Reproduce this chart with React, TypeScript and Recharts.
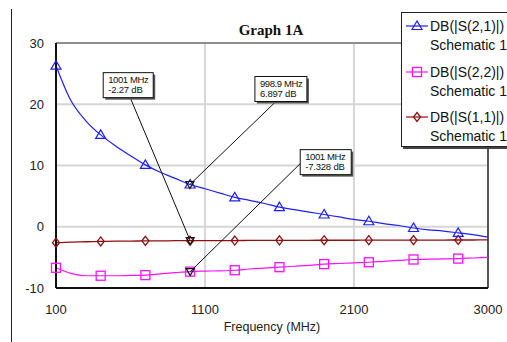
import React from 'react';
import { LineChart, Line, XAxis, YAxis, CartesianGrid, ReferenceLine, ReferenceDot } from 'recharts';

// sweep points (MHz) and the three traces in dB
const FREQS = [
  100, 200, 300, 400, 500, 600, 700, 800, 900, 1000,
  1100, 1200, 1300, 1400, 1500, 1600, 1700, 1800, 1900, 2000,
  2100, 2200, 2300, 2400, 2500, 2600, 2700, 2800, 2900, 3000,
];
const S21 = [
  26.3, 20.6, 17.3, 15.0, 13.2, 11.6, 10.1, 8.9, 7.9, 6.9,
  6.2, 5.5, 4.8, 4.3, 3.8, 3.2, 2.8, 2.4, 2.0, 1.6,
  1.2, 0.9, 0.5, 0.2, -0.2, -0.5, -0.7, -1.0, -1.3, -1.7,
];
const S22 = [
  -6.7, -7.6, -8.0, -8.0, -8.0, -7.95, -7.9, -7.7, -7.5, -7.33,
  -7.25, -7.2, -7.1, -6.9, -6.75, -6.6, -6.45, -6.3, -6.1, -6.0,
  -5.9, -5.8, -5.65, -5.5, -5.35, -5.3, -5.25, -5.2, -5.1, -5.0,
];
const S11 = [
  -2.6, -2.5, -2.45, -2.4, -2.35, -2.35, -2.3, -2.3, -2.28, -2.27,
  -2.26, -2.25, -2.25, -2.24, -2.23, -2.22, -2.22, -2.21, -2.2, -2.2,
  -2.2, -2.19, -2.19, -2.18, -2.18, -2.17, -2.17, -2.16, -2.16, -2.15,
];
const MARKED_FREQS = [100, 400, 700, 1000, 1300, 1600, 1900, 2200, 2500, 2800];

const X_TICKS = [100, 1100, 2100, 3000];
const Y_TICKS = [-10, 0, 10, 20, 30];

const CALLOUT_FREQ = [998.9, 1001, 1001];
const CALLOUT_DB = [6.897, -2.27, -7.328];
const CALLOUT_TEXT = [
  ['998.9 MHz', '6.897 dB'],
  ['1001 MHz', '-2.27 dB'],
  ['1001 MHz', '-7.328 dB'],
];

const BLUE = '#1f1fff';
const MAGENTA = '#ff10ff';
const DARKRED = '#8f1010';

const data = FREQS.map((f, i) => ({ f, s21: S21[i], s22: S22[i], s11: S11[i] }));

// box placement of each callout relative to its point
const CALLOUT_BOX = [
  { dx: 65, dy: -108, w: 52, h: 25, ax: 21, ay: 25 },
  { dx: -87, dy: -168, w: 50, h: 25, ax: 27, ay: 25 },
  { dx: 110, dy: -122, w: 51, h: 25, ax: 0, ay: 14 },
];

function Marker({ kind, x, y, color }: { kind: string; x: number; y: number; color: string }) {
  if (kind === 'tri') {
    return <polygon points={`${x},${y - 5} ${x - 5},${y + 3.5} ${x + 5},${y + 3.5}`} fill="none" stroke={color} strokeWidth={1.2} />;
  }
  if (kind === 'sq') {
    return <rect x={x - 4.5} y={y - 4.5} width={9} height={9} fill="none" stroke={color} strokeWidth={1.3} />;
  }
  return <polygon points={`${x},${y - 4.5} ${x + 3.5},${y} ${x},${y + 4.5} ${x - 3.5},${y}`} fill="none" stroke={color} strokeWidth={1.3} />;
}

const makeDot = (kind: string, color: string) => (p: any) => {
  const { cx, cy, payload, index } = p;
  if (!MARKED_FREQS.includes(payload.f)) return <g key={`n${index}`} />;
  return <g key={`m${index}`}><Marker kind={kind} x={cx} y={cy} color={color} /></g>;
};

const makeCallout = (i: number) => (p: any) => {
  const { cx, cy } = p;
  const b = CALLOUT_BOX[i];
  const bx = cx + b.dx;
  const by = cy + b.dy;
  return (
    <g>
      <line x1={bx + b.ax} y1={by + b.ay} x2={cx} y2={cy} stroke="#111" strokeWidth={1} />
      <polygon points={`${cx},${cy + 4} ${cx - 4},${cy - 3} ${cx + 4},${cy - 3}`} fill="none" stroke="#111" strokeWidth={1.2} />
      <rect x={bx + 2} y={by + 2} width={b.w} height={b.h} fill="#555" />
      <rect x={bx} y={by} width={b.w} height={b.h} fill="#fff" stroke="#111" strokeWidth={1} />
      <text x={bx + 5} y={by + 10} fontSize={9.5} fill="#111" letterSpacing={-0.4}>{CALLOUT_TEXT[i][0]}</text>
      <text x={bx + 5} y={by + 20} fontSize={9.5} fill="#111" letterSpacing={-0.2}>{CALLOUT_TEXT[i][1]}</text>
    </g>
  );
};

const LEGEND = [
  { name: 'DB(|S(2,1)|)', kind: 'tri', color: BLUE },
  { name: 'DB(|S(2,2)|)', kind: 'sq', color: MAGENTA },
  { name: 'DB(|S(1,1)|)', kind: 'dia', color: DARKRED },
];

export default function App() {
  return (
    <div style={{ position: 'absolute', left: 0, top: 0, width: 507, height: 342, overflow: 'hidden', background: '#fff', fontFamily: 'Arial, "Liberation Sans", sans-serif' }}>
      <div style={{ position: 'absolute', left: 11, top: 9, width: 1, height: 340, background: '#222' }} />
      <div style={{ position: 'absolute', left: 200, width: 142, top: 22, textAlign: 'center', fontFamily: '"Times New Roman", "Liberation Serif", serif', fontWeight: 'bold', fontSize: 15, color: '#111' }}>
        Graph 1A
      </div>
      <LineChart width={507} height={342} data={data} margin={{ top: 43, right: 19, bottom: 4, left: 6 }} style={{ position: 'absolute', left: 0, top: 0 }}>
        <CartesianGrid stroke="#d6d6d6" strokeWidth={2} />
        <XAxis
          dataKey="f"
          type="number"
          domain={[100, 3000]}
          ticks={X_TICKS}
          height={50}
          tickSize={0}
          tickMargin={17}
          tick={{ fontSize: 13, fill: '#222' }}
          axisLine={{ stroke: '#111', strokeWidth: 2 }}
          label={{ value: 'Frequency (MHz)', position: 'insideBottom', offset: 7, fontSize: 12.5, fill: '#222' }}
        />
        <YAxis
          type="number"
          domain={[-10, 30]}
          ticks={Y_TICKS}
          width={50}
          tickSize={0}
          tickMargin={12}
          tick={{ fontSize: 13, fill: '#222' }}
          axisLine={{ stroke: '#111', strokeWidth: 2 }}
        />
        <ReferenceLine y={30} stroke="#444" strokeWidth={1} />
        <ReferenceLine x={3000} stroke="#555" strokeWidth={2} />
        <Line type="monotone" dataKey="s11" stroke={DARKRED} strokeWidth={1.3} dot={makeDot('dia', DARKRED)} isAnimationActive={false} />
        <Line type="monotone" dataKey="s22" stroke={MAGENTA} strokeWidth={1.2} dot={makeDot('sq', MAGENTA)} isAnimationActive={false} />
        <Line type="monotone" dataKey="s21" stroke={BLUE} strokeWidth={1.2} dot={makeDot('tri', BLUE)} isAnimationActive={false} />
        {CALLOUT_FREQ.map((f, i) => (
          <ReferenceDot key={i} x={f} y={CALLOUT_DB[i]} ifOverflow="visible" shape={makeCallout(i)} />
        ))}
      </LineChart>
      <div style={{ position: 'absolute', left: 401, top: 12, width: 130, height: 133, background: '#fff', border: '1px solid #222', boxShadow: '2px 2px 0 #444' }}>
        {LEGEND.map((s, i) => (
          <div key={s.name} style={{ position: 'absolute', left: 0, top: 3 + i * 45.5, height: 40, width: 130 }}>
            <svg width={26} height={20} style={{ position: 'absolute', left: 3, top: 0 }}>
              <line x1={1} y1={10} x2={23} y2={10} stroke={s.color} strokeWidth={1.2} />
              <Marker kind={s.kind} x={12} y={10} color={s.color} />
            </svg>
            <div style={{ position: 'absolute', left: 28, top: 1, fontSize: 14, lineHeight: '19px', color: '#111', whiteSpace: 'nowrap' }}>
              {s.name}
              <br />
              Schematic 1
            </div>
          </div>
        ))}
      </div>
    </div>
  );
}
